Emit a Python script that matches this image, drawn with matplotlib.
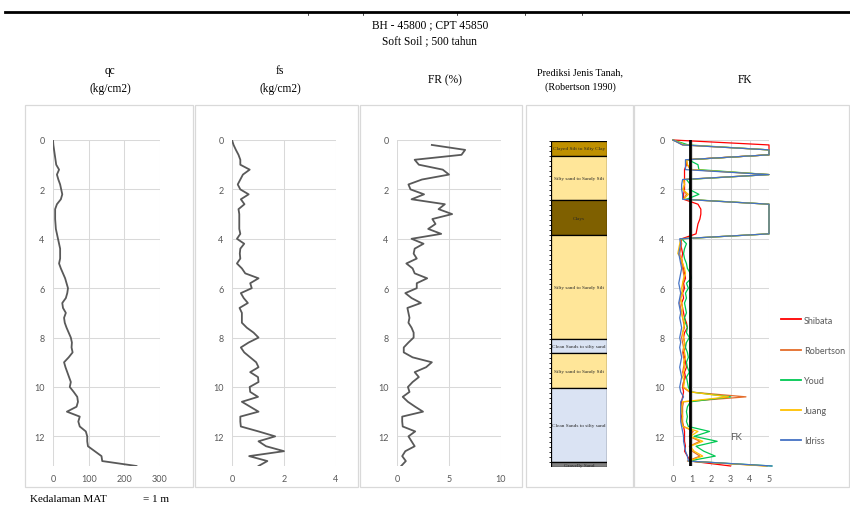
import numpy as np
import matplotlib
matplotlib.use('Agg')
import matplotlib.pyplot as plt
from matplotlib.patches import Rectangle
from matplotlib.lines import Line2D

# CPT sounding BH-45800 / CPT-45850, readings every 0.2 m (0 .. 13.2 m)
depth = np.round(np.arange(0, 13.21, 0.2), 1)

qc = [0, 1, 3, 5, 7,
      9, 17, 11, 15, 20,
      23, 26, 22, 11, 6,
      6, 6, 7, 8, 11,
      14, 17, 20, 20, 20,
      17, 22, 28, 34, 38,
      42, 40, 36, 26, 28,
      36, 31, 33, 38, 44,
      50, 53, 52, 55, 44,
      31, 35, 40, 45, 50,
      47, 58, 68, 70, 66,
      39, 75, 71, 75, 92,
      96, 96, 98, 117, 136,
      138, 234]

fs = [0, 0.06, 0.15, 0.25, 0.32,
      0.32, 0.68, 0.42, 0.32, 0.22,
      0.32, 0.64, 0.34, 0.48, 0.25,
      0.28, 0.28, 0.28, 0.28, 0.32,
      0.19, 0.47, 0.32, 0.30, 0.32,
      0.19, 0.38, 0.51, 1.02, 0.70,
      0.76, 0.34, 0.45, 0.61, 0.29,
      0.38, 0.38, 0.38, 0.57, 0.83,
      1.02, 0.64, 0.34, 0.47, 0.70,
      0.93, 1.02, 0.70, 1.00, 1.02,
      0.68, 0.70, 1.00, 0.38, 0.70,
      1.02, 0.32, 0.32, 0.34, 1.02,
      1.66, 1.02, 1.31, 2.00, 0.66,
      1.36, 1.02]

fr = [np.nan, 3.35, 6.55, 6.2, 1.7,
      2.1, 4.4, 5.0, 2.4, 1.1,
      1.3, 2.6, 1.4, 4.6, 4.0,
      5.3, 3.4, 3.7, 3.0, 4.25,
      1.4, 2.55, 1.7, 1.6, 1.9,
      0.9, 1.5, 1.7, 2.9, 1.9,
      1.9, 0.8, 1.4, 2.3, 1.0,
      1.1, 1.2, 1.1, 1.4, 1.6,
      1.6, 1.1, 0.65, 0.65, 1.5,
      3.35, 2.8, 1.7, 2.1, 1.5,
      1.05, 1.2, 0.55, 1.05, 1.75,
      2.5, 0.5, 0.5, 0.55, 1.75,
      1.1, 1.4, 1.7, 0.8, 0.5,
      0.85, 0.4]

# safety factor (FK) by method
fk_shibata = [0, 5, 5, 5, 0.7,
              0.7, 0.6, 0.6, 0.6, 0.6,
              0.6, 0.55, 0.55, 1.3, 1.45,
              1.45, 1.4, 1.3, 1.25, 1.2,
              0.45, 0.4, 0.45, 0.5, 0.45,
              0.5, 0.55, 0.6, 0.65, 0.55,
              0.6, 0.5, 0.55, 0.45, 0.5,
              0.55, 0.6, 0.7, 0.75, 0.6,
              0.55, 0.6, 0.65, 0.55, 0.6,
              0.65, 0.7, 0.6, 0.65, 0.55,
              0.5, 0.55, 0.5, 0.45, 0.45,
              0.4, 0.45, 0.45, 0.55, 0.6,
              0.6, 0.6, 0.65, 0.6, 0.75,
              0.9, 3.0]
fk_robertson = [0, 0.5, 5, 5, 0.7,
                0.75, 0.9, 5, 0.55, 0.6,
                0.55, 0.7, 0.55, 5, 5,
                5, 5, 5, 5, 5,
                0.4, 0.45, 0.4, 0.35, 0.4,
                0.45, 0.5, 0.55, 0.6, 0.5,
                0.55, 0.45, 0.4, 0.35, 0.4,
                0.45, 0.5, 0.55, 0.6, 0.5,
                0.45, 0.5, 0.55, 0.5, 0.55,
                0.6, 0.55, 0.5, 0.6, 0.55,
                0.5, 0.85, 3.8, 0.55, 0.5,
                0.5, 0.5, 0.5, 0.55, 1.05,
                0.85, 1.4, 0.85, 1.0, 1.4,
                0.75, 4.9]
fk_youd = [0, 0.8, 5, 5, 0.8,
           1.3, 1.35, 5, 0.7, 0.9,
           0.85, 1.35, 0.7, 5, 5,
           5, 5, 5, 5, 5,
           0.45, 0.7, 0.6, 0.55, 0.6,
           0.7, 0.75, 0.9, 0.95, 0.7,
           0.8, 0.65, 0.7, 0.6, 0.65,
           0.7, 0.6, 0.65, 0.75, 0.7,
           0.85, 0.7, 0.65, 0.75, 0.8,
           0.7, 0.75, 0.85, 0.7, 0.75,
           0.8, 0.9, 3.0, 0.9, 0.75,
           0.7, 0.75, 0.7, 0.8, 1.9,
           1.1, 2.3, 1.2, 1.6, 2.2,
           0.8, 5.15]
fk_juang = [0, 0.6, 5, 5, 0.7,
            0.75, 1.0, 5, 0.55, 0.6,
            0.5, 0.8, 0.55, 5, 5,
            5, 5, 5, 5, 5,
            0.4, 0.35, 0.3, 0.25, 0.45,
            0.5, 0.6, 0.65, 0.55, 0.5,
            0.45, 0.5, 0.4, 0.45, 0.5,
            0.45, 0.5, 0.6, 0.55, 0.5,
            0.55, 0.6, 0.55, 0.6, 0.65,
            0.55, 0.6, 0.55, 0.5, 0.6,
            0.55, 0.9, 2.9, 0.5, 0.45,
            0.45, 0.5, 0.45, 0.5, 1.3,
            0.9, 1.55, 0.9, 1.1, 1.55,
            0.8, 4.8]
fk_idriss = [0, 0.5, 5, 5, 0.65,
             0.65, 0.65, 5, 0.5, 0.45,
             0.45, 0.5, 0.5, 5, 5,
             5, 5, 5, 5, 5,
             0.35, 0.4, 0.35, 0.3, 0.35,
             0.4, 0.45, 0.4, 0.35, 0.3,
             0.35, 0.4, 0.35, 0.3, 0.35,
             0.4, 0.35, 0.4, 0.45, 0.4,
             0.35, 0.4, 0.35, 0.4, 0.45,
             0.4, 0.35, 0.4, 0.45, 0.4,
             0.35, 0.4, 0.55, 0.4, 0.4,
             0.4, 0.4, 0.4, 0.45, 0.5,
             0.55, 0.55, 0.6, 0.65, 0.75,
             0.8, 5.15]
fk_line = 0.86

# soil profile (Robertson 1990)
layer_top = [0, 0.6, 2.4, 3.8, 8.0, 8.6, 10.0, 13.0]
layer_bot = [0.6, 2.4, 3.8, 8.0, 8.6, 10.0, 13.0, 13.2]
layer_name = ['Clayed Silt to Silty Clay', 'Silty sand to Sandy Silt', 'Clays',
              'Silty sand to Sandy Silt', 'Clean Sands to silty sand',
              'Silty sand to Sandy Silt', 'Clean Sands to silty sand', 'Gravelly Sand']
layer_color = ['#bf9000', '#ffe699', '#7f6000', '#ffe699', '#dae3f3',
               '#ffe699', '#dae3f3', '#7f7f7f']

W, H = 850, 506
GRAY = '#595959'
GRID = '#d9d9d9'
SERIF = 'Liberation Serif'
SANS = 'Lato'


def box(x0, y0, x1, y1):
    return [x0 / W, 1 - y1 / H, (x1 - x0) / W, (y1 - y0) / H]


def style(ax, xmax, xticks):
    ax.set_xlim(0, xmax)
    ax.set_ylim(13.2, 0)
    ax.set_xticks(xticks)
    ax.set_yticks(range(0, 13, 2))
    ax.grid(color=GRID, lw=0.75)
    ax.set_axisbelow(True)
    for s in ax.spines.values():
        s.set_visible(False)
    ax.tick_params(length=0, labelsize=6.5, colors=GRAY, pad=6)
    for lab in ax.get_xticklabels() + ax.get_yticklabels():
        lab.set_family(SANS)


fig = plt.figure(figsize=(8.5, 5.06), dpi=100)

# header line
fig.add_artist(Line2D([5 / W, 1], [1 - 13 / H] * 2, color='k', lw=2))
for tx in [308, 363, 457, 525, 582]:
    fig.add_artist(Line2D([tx / W] * 2, [1 - 13 / H, 1 - 16 / H], color='k', lw=0.5))

fig.text(430 / W, 1 - 25 / H, 'BH - 45800 ; CPT 45850', ha='center', va='center',
         family=SERIF, size=8.3)
fig.text(430 / W, 1 - 41 / H, 'Soft Soil ; 500 tahun', ha='center', va='center',
         family=SERIF, size=8.3)

# panel frames
for x0, x1 in [(25, 193), (195, 358), (360, 522), (526, 633), (634, 849)]:
    fig.add_artist(Rectangle((x0 / W, 1 - 488 / H), (x1 - x0) / W, (488 - 106) / H,
                             transform=fig.transFigure, fill=False, ec=GRID, lw=0.9))

titles = [(110, 'qc\n(kg/cm2)'), (280, 'fs\n(kg/cm2)'), (445, 'FR (%)'),
          (580, 'Prediksi Jenis Tanah,\n(Robertson 1990)'), (745, 'FK')]
for x, t in titles:
    sz = 7.3 if 'Prediksi' in t else 8.3
    fig.text(x / W, 1 - 80 / H, t, ha='center', va='center', family=SERIF, size=sz,
             linespacing=1.7)

# qc
ax1 = fig.add_axes(box(53, 141, 160, 467))
ax1.plot(qc, depth, color=GRAY, lw=1.3)
style(ax1, 300, [0, 100, 200, 300])

# fs
ax2 = fig.add_axes(box(232, 141, 336, 467))
ax2.plot(fs, depth, color=GRAY, lw=1.3)
style(ax2, 4, [0, 2, 4])

# FR
ax3 = fig.add_axes(box(397, 141, 501, 467))
ax3.plot(fr, depth, color=GRAY, lw=1.3)
style(ax3, 10, [0, 5, 10])

# soil column
ax4 = fig.add_axes(box(551, 142, 607, 468))
for t, b, name, c in zip(layer_top, layer_bot, layer_name, layer_color):
    ax4.bar(0.5, b - t, bottom=t, width=1, color=c, edgecolor='k', lw=0.9)
    ax4.text(0.5, (t + b) / 2, name, ha='center', va='center', family=SERIF,
             size=3.8, color='#262626')
ax4.set_xlim(0, 1)
ax4.set_ylim(13.2, 0)
ax4.set_xticks([])
ax4.set_yticks(np.arange(0, 13.2, 0.2))
ax4.tick_params(axis='y', length=1.5, width=0.6, labelleft=False, direction='out')
for s in ax4.spines.values():
    s.set_visible(False)

# FK
ax5 = fig.add_axes(box(673, 141, 769, 467))
series = [('Shibata', fk_shibata, '#ff0000'), ('Robertson', fk_robertson, '#e46c2a'),
          ('Youd', fk_youd, '#00c853'), ('Juang', fk_juang, '#ffc000'),
          ('Idriss', fk_idriss, '#4472c4')]
for name, vals, c in series:
    ax5.plot(vals, depth, color=c, lw=0.9, label=name, clip_on=False)
ax5.axvline(fk_line, color='k', lw=2)
ax5.text(3.3, 12.0, 'FK', ha='center', va='center', color=GRAY, size=7, family=SANS)
style(ax5, 5, [0, 1, 2, 3, 4, 5])
leg = ax5.legend(loc='upper left', bbox_to_anchor=(776 / W, 1 - 312 / H),
                 bbox_transform=fig.transFigure, frameon=False, handlelength=2.3,
                 handletextpad=0.3, labelspacing=2.35, borderpad=0,
                 prop={'family': SANS, 'size': 6.5})
for txt in leg.get_texts():
    txt.set_color(GRAY)
for ln in leg.get_lines():
    ln.set_linewidth(1.3)

fig.text(30 / W, 1 - 500 / H, 'Kedalaman MAT', ha='left', va='center', family=SERIF, size=8)
fig.text(143 / W, 1 - 500 / H, '= 1 m', ha='left', va='center', family=SERIF, size=8)

fig.savefig('out.png', dpi=100)
